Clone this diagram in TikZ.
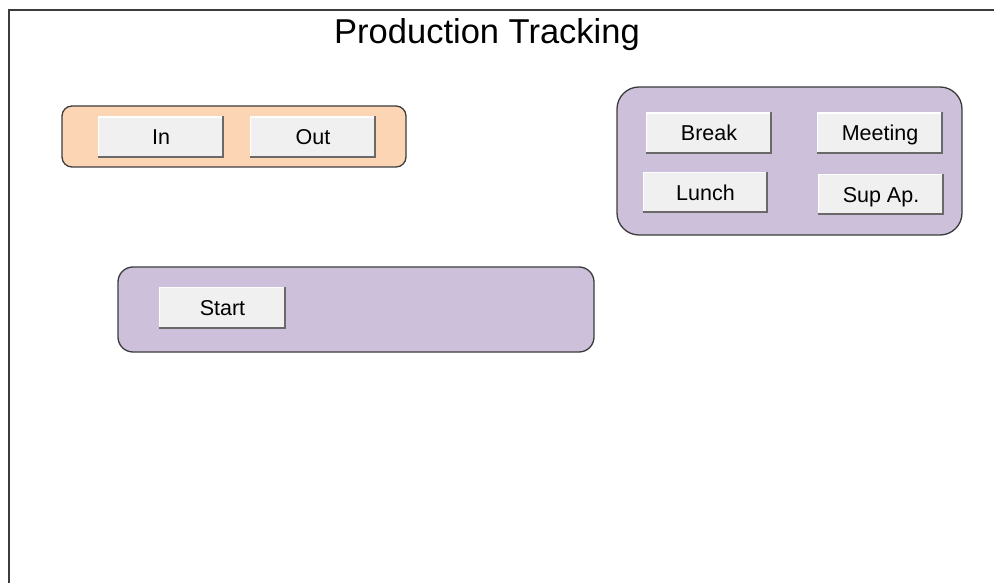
\documentclass[tikz,border=0pt]{standalone}
\usepackage{fontspec}
\setmainfont{Liberation Sans}
\definecolor{peach}{HTML}{FCD5B4}
\definecolor{lilac}{HTML}{CCC0DA}
\definecolor{btnface}{HTML}{F0F0F0}
\definecolor{btnshade}{HTML}{696969}
\definecolor{edge}{HTML}{3C3C3C}
\tikzset{
    panel/.style={draw=edge, line width=1.3pt, rectangle, inner sep=0pt},
    btn/.style={fill=btnface, rectangle, inner sep=0pt, minimum width=126pt, minimum height=41pt,
        text height=15.5pt, text depth=0pt, font=\fontsize{21.5}{24}\selectfont}
}
\begin{document}
\begin{tikzpicture}[x=1pt,y=-1pt]
    \useasboundingbox (0,0) rectangle (994,583);
    \draw[edge, line width=2pt] (9,583) -- (9,10) -- (994,10);
    \node (title) at (487,35) {\fontsize{34.5}{38}\selectfont Production Tracking};
    % panels
    \node[panel, fill=peach, rounded corners=10pt, minimum width=344pt, minimum height=61pt] (shift) at (234,136.5) {};
    \node[panel, fill=lilac, rounded corners=22pt, minimum width=345pt, minimum height=148pt] (status) at (789.5,161) {};
    \node[panel, fill=lilac, rounded corners=15pt, minimum width=476pt, minimum height=85pt] (run) at (356,309.5) {};
    % buttons
    \node[btn] (in) at (161,137) {In};
    \node[btn] (out) at (313,137) {Out};
    \node[btn] (break) at (709,133) {Break};
    \node[btn] (meeting) at (880,133) {Meeting};
    \node[btn, minimum width=125pt] (lunch) at (705.5,192.5) {Lunch};
    \node[btn] (supap) at (881,194.5) {Sup Ap.};
    \node[btn, minimum width=127pt, minimum height=42pt] (start) at (222.5,308) {Start};
    \foreach \b in {in,out,break,meeting,lunch,supap,start} {
        \draw[white, line width=1.5pt] ([shift={(0.75,-0.75)}]\b.south west) -- ([shift={(0.75,0.75)}]\b.north west) -- ([shift={(-0.75,0.75)}]\b.north east);
        \draw[btnshade, line width=2pt] ([shift={(0,-1)}]\b.south west) -- ([shift={(-1,-1)}]\b.south east) -- ([shift={(-1,0)}]\b.north east);
    }
\end{tikzpicture}
\end{document}
